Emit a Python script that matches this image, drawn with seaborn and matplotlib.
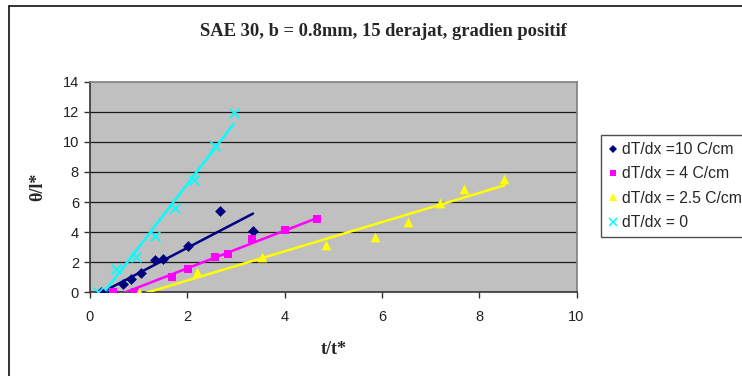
import numpy as np
import pandas as pd
import matplotlib
matplotlib.use("Agg")
import matplotlib.pyplot as plt
from matplotlib.lines import Line2D
import seaborn as sns

sns.set_theme(style="white")
plt.rcParams["font.family"] = ["Liberation Sans", "DejaVu Sans"]

# Measured runs: t/t* vs theta/l* for each temperature gradient
labels = ["dT/dx =10 C/cm", "dT/dx = 4 C/cm", "dT/dx = 2.5 C/cm", "dT/dx = 0"]

x_10 = [0.22, 0.45, 0.68, 0.84, 1.04, 1.34, 1.51, 2.01, 2.67, 3.35]
y_10 = [0.0, 0.0, 0.53, 0.86, 1.31, 2.15, 2.22, 3.07, 5.40, 4.09]

x_4 = [0.47, 0.93, 1.68, 2.01, 2.56, 2.84, 3.34, 4.01, 4.67]
y_4 = [0.0, 0.0, 1.0, 1.55, 2.37, 2.55, 3.52, 4.14, 4.87]

x_25 = [1.01, 2.19, 3.53, 4.85, 5.86, 6.54, 7.19, 7.69, 8.52]
y_25 = [0.0, 1.37, 2.33, 3.12, 3.70, 4.67, 5.96, 6.85, 7.56]

x_0 = [0.16, 0.53, 0.94, 1.34, 1.75, 2.14, 2.56, 2.95]
y_0 = [0.0, 1.55, 2.33, 3.71, 5.59, 7.47, 9.73, 11.9]

x_ticks = [0, 2, 4, 6, 8, 10]
y_ticks = [0, 2, 4, 6, 8, 10, 12, 14]

series = [
    (x_10, y_10, "#000080", "D", 5.5),
    (x_4, y_4, "#FF00FF", "s", 6.0),
    (x_25, y_25, "#FFFF00", "^", 7.0),
    (x_0, y_0, "#00FFFF", "x", 7.0),
]

fig = plt.figure(figsize=(7.42, 3.76), dpi=100)
ax = fig.add_axes([90 / 742, 1 - 292.3 / 376, (576.5 - 90) / 742, (292.3 - 81.7) / 376])
ax.set_facecolor("#C0C0C0")

handles = []
for (xs, ys, col, mk, ms), lab in zip(series, labels):
    df = pd.DataFrame({"x": xs, "y": ys})
    # linear trendline across the data range
    sns.regplot(data=df, x="x", y="y", ax=ax, ci=None, scatter=False,
                truncate=True, color=col, line_kws={"lw": 1.8, "zorder": 3})
    if mk == "x":
        sns.scatterplot(data=df, x="x", y="y", ax=ax, color=col, marker="x",
                        s=ms ** 2, linewidth=1.3, zorder=4, legend=False)
    else:
        sns.scatterplot(data=df, x="x", y="y", ax=ax, color=col, marker=mk,
                        s=ms ** 2, linewidth=0, edgecolor=col, zorder=4, legend=False)
    handles.append(Line2D([], [], ls="none", marker=mk, color=col,
                          markersize=ms * 0.75, markeredgewidth=1.1 if mk == "x" else 0))

ax.set_xlim(0, 10)
ax.set_ylim(0, 14)
ax.set_xticks(x_ticks)
ax.set_yticks(y_ticks)
ax.set_xticklabels([str(t) for t in x_ticks], fontsize=10.5)
ax.set_yticklabels([str(t) for t in y_ticks], fontsize=10.5)
ax.tick_params(axis="x", pad=9)
ax.tick_params(axis="y", pad=4)
ax.tick_params(axis="both", direction="out", length=4, width=1, color="#333333",
               bottom=True, left=True, labelcolor="#222222")
for yv in y_ticks[1:-1]:
    ax.axhline(yv, color="#1a1a1a", lw=0.9, zorder=1)
for name, sp in ax.spines.items():
    sp.set_color("#808080")
    sp.set_linewidth(1.2)
ax.spines["left"].set_color("#333333")
ax.spines["bottom"].set_color("#333333")

ax.set_xlabel("t/t*", fontsize=13, fontweight="bold", family="Liberation Serif", labelpad=12)
ax.set_ylabel("θ/l*", fontsize=13, fontweight="bold", family="Liberation Serif", labelpad=12)

fig.text(383 / 742, 1 - 31 / 376, "SAE 30, b = 0.8mm, 15 derajat, gradien positif",
         ha="center", va="center", fontsize=13.3, fontweight="bold", family="Liberation Serif")

leg = fig.legend(handles, labels, loc="upper left", bbox_to_anchor=(601 / 742, 1 - 135 / 376),
                 frameon=True, fontsize=11.3, handlelength=0.6, handletextpad=0.3,
                 borderpad=0.45, labelspacing=0.6, borderaxespad=0, fancybox=False)
leg.get_frame().set_edgecolor("#222222")
leg.get_frame().set_linewidth(1.0)

# chart area frame
fig.add_artist(Line2D([9 / 742, 9 / 742], [0, 1 - 6 / 376], transform=fig.transFigure,
                      color="#222222", lw=1.3))
fig.add_artist(Line2D([9 / 742, 1], [1 - 6 / 376, 1 - 6 / 376], transform=fig.transFigure,
                      color="#222222", lw=1.3))

fig.savefig("out.png", dpi=100)
